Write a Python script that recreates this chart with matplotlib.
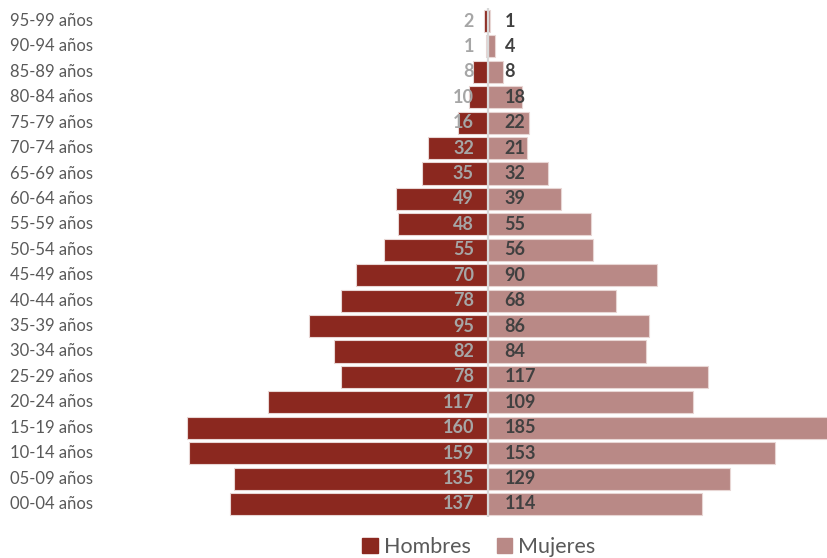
import matplotlib.pyplot as plt
from matplotlib.patches import Patch
import matplotlib.transforms as mtransforms

grupos = ['00-04 años', '05-09 años', '10-14 años', '15-19 años', '20-24 años',
          '25-29 años', '30-34 años', '35-39 años', '40-44 años', '45-49 años',
          '50-54 años', '55-59 años', '60-64 años', '65-69 años', '70-74 años',
          '75-79 años', '80-84 años', '85-89 años', '90-94 años', '95-99 años']
hombres = [137, 135, 159, 160, 117, 78, 82, 95, 78, 70,
           55, 48, 49, 35, 32, 16, 10, 8, 1, 2]
mujeres = [114, 129, 153, 185, 109, 117, 84, 86, 68, 90,
           56, 55, 39, 32, 21, 22, 18, 8, 4, 1]

c_hom = '#8B281F'
c_muj = '#B98986'

plt.rcParams['font.family'] = ['Lato', 'DejaVu Sans']

fig = plt.figure(figsize=(8.28, 5.58), dpi=100)
ax = fig.add_axes([0, 1 - 516.7 / 558, 1, (516.7 - 8.3) / 558])

y = list(range(len(grupos)))
ax.barh(y, [-v for v in hombres], height=0.87, color=c_hom, edgecolor='#E8D6D4', linewidth=0.8)
ax.barh(y, mujeres, height=0.87, color=c_muj, edgecolor='#E8D6D4', linewidth=0.8)
ax.axvline(0, color='#D9D9D9', linewidth=1.6, zorder=3)

ax.set_xlim(-259.6, 181)
ax.set_ylim(-0.5, len(grupos) - 0.5)
ax.axis('off')

for i in y:
    ax.annotate(str(hombres[i]), (0, i), xytext=(-10, 0), textcoords='offset points',
                ha='right', va='center', fontsize=13, fontweight='bold', color='#A6A6A6', zorder=4)
    ax.annotate(str(mujeres[i]), (0, i), xytext=(12, 0), textcoords='offset points',
                ha='left', va='center', fontsize=13, fontweight='bold', color='#404040', zorder=4)

trans = mtransforms.blended_transform_factory(fig.transFigure, ax.transData)
for i, g in enumerate(grupos):
    ax.text(10 / 828, i, g, transform=trans, ha='left', va='center', fontsize=12, color='#595959')

handles = [Patch(color=c_hom, label='Hombres'), Patch(color=c_muj, label='Mujeres')]
fig.legend(handles=handles, loc='center', bbox_to_anchor=(479 / 828, 1 - 547 / 558), ncol=2,
           frameon=False, fontsize=15.5, handlelength=0.7, handleheight=0.7,
           handletextpad=0.3, columnspacing=1.2, labelcolor='#595959')

fig.savefig('out.png', dpi=100)
